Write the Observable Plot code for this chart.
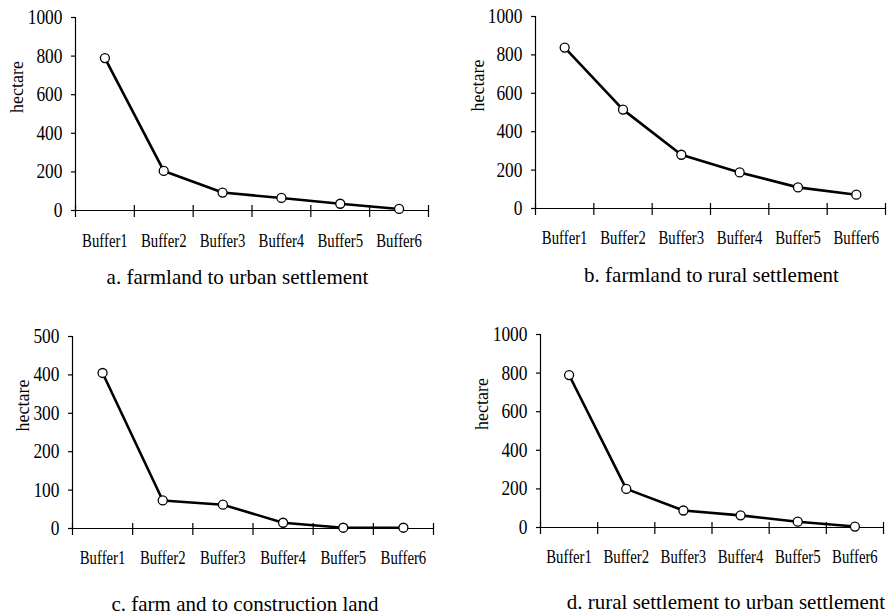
<!DOCTYPE html>
<html>
<head>
<meta charset="utf-8">
<script src="https://cdn.jsdelivr.net/npm/d3@7"></script>
<script src="https://cdn.jsdelivr.net/npm/@observablehq/plot@0.6"></script>
<style>
  body { margin: 0; background: #fff; }
  #wrap { position: relative; width: 888px; height: 616px; overflow: hidden;
          font-family: "Liberation Serif", "Times New Roman", serif; color: #000; }
  .panel { position: absolute; }
  .cap { position: absolute; font-size: 21px; line-height: 21px; white-space: nowrap;
         transform: translate(-50%, -50%); color: #000; }
</style>
</head>
<body>
<div id="wrap"></div>
<script>
// ---- data ----
const buffers = ["Buffer1", "Buffer2", "Buffer3", "Buffer4", "Buffer5", "Buffer6"];
const farmToUrban = [790, 205, 93, 65, 35, 8];
const farmToRural = [838, 515, 280, 188, 110, 72];
const farmToConstruction = [405, 73, 62, 15, 2, 2];
const ruralToUrban = [790, 200, 88, 63, 30, 5];
const yTicks1000 = [0, 200, 400, 600, 800, 1000];
const yTicks500 = [0, 100, 200, 300, 400, 500];
const yLabel = "hectare";
const captions = [
  "a. farmland to urban settlement",
  "b. farmland to rural settlement",
  "c. farm and to construction land",
  "d. rural settlement to urban settlement"
];

// ---- layout (positions / sizes only) ----
const layouts = [
  {values: farmToUrban, ticks: yTicks1000, caption: captions[0], left: 0, top: 0, width: 444, height: 300,
   mL: 75, mR: 16, mT: 17, mB: 90, labelDx: -58, pad: 24, capX: 237.5, capY: 277},
  {values: farmToRural, ticks: yTicks1000, caption: captions[1], left: 444, top: 0, width: 444, height: 300,
   mL: 91, mR: 3, mT: 16, mB: 92, labelDx: -57, pad: 23, capX: 711.5, capY: 275},
  {values: farmToConstruction, ticks: yTicks500, caption: captions[2], left: 0, top: 300, width: 444, height: 316,
   mL: 72, mR: 11, mT: 36, mB: 88, labelDx: -49, pad: 23, capX: 245, capY: 604},
  {values: ruralToUrban, ticks: yTicks1000, caption: captions[3], left: 444, top: 300, width: 444, height: 316,
   mL: 96, mR: 5, mT: 34, mB: 89, labelDx: -58, pad: 23, capX: 726, capY: 602}
];

const wrap = document.getElementById("wrap");
const boundaries = d3.range(buffers.length + 1);
const centers = buffers.map((b, i) => i + 0.5);

function compress(svg, sel, k) {
  svg.querySelectorAll(sel).forEach(t => {
    const w = t.getComputedTextLength();
    t.setAttribute("textLength", (w * k).toFixed(1));
    t.setAttribute("lengthAdjust", "spacingAndGlyphs");
  });
}

for (const L of layouts) {
  const rows = buffers.map((b, i) => ({buffer: b, pos: i + 0.5, value: L.values[i]}));
  const svg = Plot.plot({
    width: L.width, height: L.height,
    marginLeft: L.mL, marginRight: L.mR, marginTop: L.mT, marginBottom: L.mB,
    x: {domain: [0, buffers.length], axis: null},
    y: {domain: [0, L.ticks[L.ticks.length - 1]], axis: null},
    style: {fontFamily: '"Liberation Serif", "Times New Roman", serif', fontSize: "18px", color: "#000", background: "transparent", overflow: "visible"},
    marks: [
      Plot.axisY(L.ticks, {tickSize: 4, tickPadding: 9, fontSize: 20, label: null, strokeWidth: 1.2,
                           tickFormat: d => String(d)}),
      Plot.ruleX([0], {stroke: "#000", strokeWidth: 1.2}),
      Plot.ruleY([0], {stroke: "#000", strokeWidth: 1.2}),
      Plot.ruleX(boundaries, {x: d => d, y1: 0, y2: 0, insetTop: 7, insetBottom: 5, stroke: "#000", strokeWidth: 1.2}),
      Plot.axisX(centers, {tickSize: 0, tickPadding: L.pad, fontSize: 18, label: null,
                           tickFormat: d => buffers[Math.floor(d)]}),
      Plot.line(rows, {x: "pos", y: "value", stroke: "#000", strokeWidth: 2.6}),
      Plot.dot(rows, {x: "pos", y: "value", r: 4.5, fill: "#fff", stroke: "#000", strokeWidth: 1.3}),
      Plot.text([yLabel], {text: d => d, frameAnchor: "left", rotate: -90, dx: L.labelDx, dy: -1, fontSize: 18})
    ]
  });
  const div = document.createElement("div");
  div.className = "panel";
  div.style.left = L.left + "px";
  div.style.top = L.top + "px";
  div.appendChild(svg);
  wrap.appendChild(div);
  compress(svg, '[aria-label="x-axis tick label"] text', 0.82);
  compress(svg, '[aria-label="y-axis tick label"] text', 0.87);

  const cap = document.createElement("div");
  cap.className = "cap";
  cap.style.left = L.capX + "px";
  cap.style.top = L.capY + "px";
  cap.textContent = L.caption;
  wrap.appendChild(cap);
}
</script>
</body>
</html>
